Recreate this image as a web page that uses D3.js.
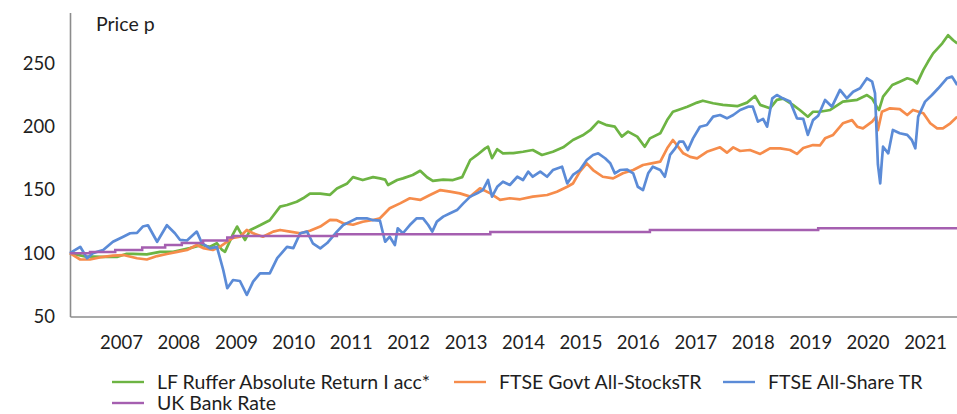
<!DOCTYPE html>
<html>
<head>
<meta charset="utf-8">
<script src="https://cdn.jsdelivr.net/npm/d3@7"></script>
<style>
  html, body { margin: 0; padding: 0; background: #fff; }
  svg { display: block; font-family: Lato, "Open Sans", sans-serif; }
</style>
</head>
<body>
<div id="chart"></div>
<script>
// Series: [decimal year, price p]
const ruffer = [
  [2006.11,100],[2006.37,97.5],[2006.69,97],[2006.93,97],[2007.10,99.5],[2007.21,99.5],[2007.45,99],
  [2007.68,101],[2007.91,101],[2008.20,104],[2008.41,106.4],[2008.55,105],[2008.67,107.8],[2008.76,102.5],
  [2008.81,101],[2008.95,115],[2009.02,121],[2009.07,117],[2009.16,110.4],[2009.25,118.3],[2009.42,122],
  [2009.59,126],[2009.77,136.7],[2009.89,138],[2010.06,140.6],[2010.17,143.3],[2010.29,147],[2010.47,147],
  [2010.64,146],[2010.76,151],[2010.94,155],[2011.04,160],[2011.21,157.7],[2011.39,160],[2011.51,159],
  [2011.60,158],[2011.65,153.8],[2011.81,157.7],[2011.91,159],[2012.08,161.7],[2012.21,165],[2012.33,159.9],
  [2012.43,157],[2012.61,158],[2012.78,157.7],[2012.94,160],[2013.08,173.5],[2013.20,177.5],[2013.34,182.7],
  [2013.39,184],[2013.46,175],[2013.55,182],[2013.65,178.8],[2013.83,179],[2014.00,180],[2014.17,181.4],
  [2014.33,177.5],[2014.52,180],[2014.70,183.5],[2014.87,189.3],[2015.04,193],[2015.17,197],[2015.31,203.8],
  [2015.46,201],[2015.60,199.8],[2015.72,192],[2015.83,195.9],[2015.99,192],[2016.12,184],[2016.21,190.6],
  [2016.39,194.6],[2016.51,205],[2016.61,211.6],[2016.70,213],[2016.86,215.6],[2017.03,218.8],[2017.13,220.3],
  [2017.31,218.3],[2017.48,217],[2017.73,216],[2017.90,218.8],[2018.04,224],[2018.13,217],[2018.30,214.3],
  [2018.42,221],[2018.53,222],[2018.70,217],[2018.82,213],[2018.96,207.7],[2019.05,211.6],[2019.17,211.6],
  [2019.35,213],[2019.57,219.6],[2019.82,221],[2019.99,224.8],[2020.08,222],[2020.16,215.6],[2020.20,213],
  [2020.27,223.5],[2020.43,232.7],[2020.56,235.3],[2020.69,238],[2020.79,236.7],[2020.86,234],[2020.97,244.6],
  [2021.05,251],[2021.14,257.7],[2021.30,265.6],[2021.40,272],[2021.49,268],[2021.56,265.6]
];

const gilts = [
  [2006.11,100],[2006.29,95],[2006.46,95],[2006.63,96.7],[2006.86,98],[2007.04,98.5],[2007.28,96],
  [2007.45,95],[2007.63,97.7],[2007.80,99.3],[2007.98,101],[2008.15,102.5],[2008.32,106.4],[2008.43,104],
  [2008.60,102.5],[2008.72,105],[2008.85,109],[2008.95,112],[2009.07,113],[2009.19,118.3],[2009.30,115.7],
  [2009.47,113],[2009.65,117],[2009.77,118.3],[2009.94,117],[2010.12,115.7],[2010.29,117.7],[2010.47,121],
  [2010.64,126.2],[2010.76,126],[2010.87,123.6],[2011.04,122.4],[2011.21,124.8],[2011.39,126.2],[2011.51,127.5],
  [2011.68,135.4],[2011.86,139.3],[2012.03,143.3],[2012.21,142],[2012.38,145.9],[2012.56,149.8],[2012.73,148.5],
  [2012.90,147.2],[2013.08,144.6],[2013.25,151.2],[2013.43,147.2],[2013.60,142],[2013.77,143.3],[2013.95,142.5],
  [2014.17,144.6],[2014.42,145.9],[2014.59,148.5],[2014.77,152.4],[2014.87,155],[2014.99,164.3],[2015.11,170.9],
  [2015.22,165.6],[2015.39,160.3],[2015.57,159],[2015.74,163],[2015.92,165.6],[2016.09,169.6],[2016.26,171],
  [2016.39,172.2],[2016.51,182.7],[2016.61,189.3],[2016.79,178.8],[2016.91,176],[2017.03,174.8],[2017.20,180],
  [2017.43,183.5],[2017.55,179.3],[2017.66,183.5],[2017.78,180.6],[2017.95,181.4],[2018.13,178.3],[2018.30,182.7],
  [2018.48,182.7],[2018.65,181.4],[2018.77,178.3],[2018.88,183],[2019.05,185.3],[2019.17,185],[2019.26,190.6],
  [2019.40,193.3],[2019.57,202.5],[2019.73,205],[2019.82,199.8],[2019.92,198.5],[2020.08,203.8],[2020.15,207.7],
  [2020.18,197],[2020.25,211.6],[2020.39,214.3],[2020.56,213.7],[2020.69,209],[2020.79,213],[2020.97,210.4],
  [2021.09,202.5],[2021.21,198.5],[2021.31,198.5],[2021.44,202.5],[2021.56,207.7]
];

const allShare = [
  [2006.11,100],[2006.29,105],[2006.41,96],[2006.51,100],[2006.69,102.5],[2006.86,109],[2007.04,113],
  [2007.16,115.7],[2007.28,116],[2007.38,121],[2007.47,122],[2007.63,109],[2007.80,122],[2007.94,115.7],
  [2008.03,110.4],[2008.15,110],[2008.32,117],[2008.41,107.8],[2008.55,103.8],[2008.67,105],[2008.78,86.7],
  [2008.85,72.3],[2008.95,78.8],[2009.07,78],[2009.19,67],[2009.30,77.5],[2009.42,84],[2009.59,84],
  [2009.72,96],[2009.89,105],[2010.00,104],[2010.12,115.7],[2010.24,117],[2010.34,107.8],[2010.47,103.8],
  [2010.59,108],[2010.76,117],[2010.87,122.2],[2010.99,124.9],[2011.11,127.5],[2011.28,127.5],[2011.39,126],
  [2011.51,125.6],[2011.60,109],[2011.68,113],[2011.77,106.4],[2011.82,119.6],[2011.91,115.7],[2012.03,122.2],
  [2012.15,127.5],[2012.26,127.5],[2012.35,122.2],[2012.42,117],[2012.50,124.9],[2012.61,128.8],[2012.73,131.5],
  [2012.85,134],[2012.96,139.3],[2013.08,144.6],[2013.20,147.2],[2013.30,149.8],[2013.39,157.7],[2013.46,144.6],
  [2013.55,152.4],[2013.65,156.4],[2013.77,153.8],[2013.90,160.3],[2014.00,157.7],[2014.09,164.3],[2014.17,160.3],
  [2014.30,164.3],[2014.42,160.3],[2014.52,165.6],[2014.68,168.2],[2014.77,155],[2014.87,161.7],[2014.99,165.6],
  [2015.11,173.5],[2015.22,177.5],[2015.31,178.8],[2015.43,174.9],[2015.52,170.9],[2015.60,163],[2015.69,165.6],
  [2015.81,166],[2015.92,163],[2016.00,152.4],[2016.09,149.8],[2016.18,163],[2016.26,168.2],[2016.39,165.6],
  [2016.47,160.3],[2016.56,177.5],[2016.65,182.7],[2016.72,188],[2016.79,188],[2016.87,181.4],[2016.96,190.6],
  [2017.08,199.8],[2017.20,201.1],[2017.31,207.7],[2017.43,209],[2017.55,206.4],[2017.66,209],[2017.78,213],
  [2017.92,215.6],[2018.00,215.6],[2018.09,203.8],[2018.18,206],[2018.25,199.8],[2018.34,222.2],[2018.42,224.8],
  [2018.53,222],[2018.65,219.6],[2018.77,206.4],[2018.88,206],[2018.96,193.3],[2019.05,205],[2019.14,208.5],
  [2019.26,220.9],[2019.38,215.6],[2019.52,228.8],[2019.64,222.2],[2019.75,227.4],[2019.87,230.1],[2019.99,238],
  [2020.08,235.4],[2020.13,226.1],[2020.18,170],[2020.22,155],[2020.25,173.5],[2020.27,184],[2020.36,178.8],
  [2020.44,197.2],[2020.56,194.6],[2020.69,193.3],[2020.77,189.3],[2020.83,182.7],[2020.88,207.7],[2021.00,219.6],
  [2021.12,224.8],[2021.23,230.1],[2021.38,238],[2021.47,239.3],[2021.56,232.7]
];

// Bank Rate index steps up from 100
const bankRate = [
  [2006.11,100],[2006.46,101],[2006.90,102.5],[2007.37,104.5],[2007.77,106.5],[2008.06,108],[2008.43,110],
  [2008.85,112.3],[2008.95,113.6],[2010.76,115],[2013.43,116.7],[2016.21,118.2],[2019.14,119.6],[2021.56,119.6]
];

const yTicks = [50, 100, 150, 200, 250];
const yearTicks = d3.range(2007, 2022);
const legendNames = ['LF Ruffer Absolute Return I acc*', 'FTSE Govt All-StocksTR', 'FTSE All-Share TR', 'UK Bank Rate'];
const colors = ['#6db443', '#f68c4b', '#5b8bd7', '#a55fb0'];

// decimal year -> Date
function toDate(t) {
  const yr = Math.floor(t);
  const a = new Date(yr, 0, 1), b = new Date(yr + 1, 0, 1);
  return new Date(+a + (t - yr) * (b - a));
}

const width = 957, height = 414;
const svg = d3.select('#chart').append('svg')
  .attr('width', width).attr('height', height);

const x = d3.scaleTime()
  .domain([toDate(2006.112), toDate(2021.556)])
  .range([70, 957]);
const y = d3.scaleLinear().domain([50, 290]).range([316.5, 12.4]);

// axes
const xAxis = svg.append('g')
  .attr('transform', 'translate(0,316.5)')
  .call(d3.axisBottom(x).tickValues(yearTicks.map(d => new Date(d, 0, 1)))
    .tickFormat(d3.timeFormat('%Y')).tickSize(0).tickPadding(19));
const yAxis = svg.append('g')
  .attr('transform', 'translate(70,0)')
  .call(d3.axisLeft(y).tickValues(yTicks).tickSize(0).tickPadding(15));

[xAxis, yAxis].forEach(g => {
  g.select('.domain').attr('stroke', '#8c8c8c').attr('stroke-width', 1.6);
  g.selectAll('text').attr('font-size', 18.5).attr('fill', '#1e1e1e')
    .attr('font-family', 'Lato, "Open Sans", sans-serif');
});

svg.append('text')
  .attr('x', 96).attr('y', 31)
  .attr('font-size', 19.5).attr('fill', '#1e1e1e')
  .text('Price p');

// lines
const line = d3.line().x(d => x(toDate(d[0]))).y(d => y(d[1]));
const step = d3.line().curve(d3.curveStepAfter).x(d => x(toDate(d[0]))).y(d => y(d[1]));

[ruffer, gilts, allShare].forEach((s, i) => {
  svg.append('path')
    .datum(s)
    .attr('fill', 'none')
    .attr('stroke', colors[i])
    .attr('stroke-width', 2.7)
    .attr('stroke-linejoin', 'round')
    .attr('d', line);
});
svg.append('path')
  .datum(bankRate)
  .attr('fill', 'none')
  .attr('stroke', colors[3])
  .attr('stroke-width', 2.5)
  .attr('d', step);

// legend
const legendPos = [[112, 382], [454, 382], [723, 382], [112, 403]];
legendNames.forEach((name, i) => {
  const [lx, ly] = legendPos[i];
  svg.append('line')
    .attr('x1', lx).attr('x2', lx + 32)
    .attr('y1', ly).attr('y2', ly)
    .attr('stroke', colors[i]).attr('stroke-width', 2.4);
  svg.append('text')
    .attr('x', lx + 45).attr('y', ly)
    .attr('dy', '0.36em')
    .attr('font-size', 19.5).attr('fill', '#1e1e1e')
    .text(name);
});
</script>
</body>
</html>
